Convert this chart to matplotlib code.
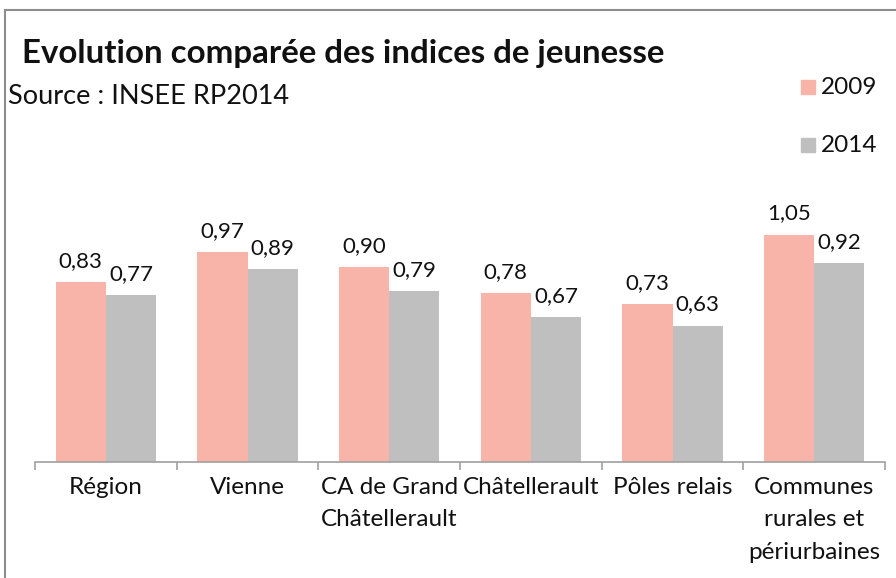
import matplotlib
matplotlib.use("Agg")
import matplotlib.pyplot as plt
from matplotlib.patches import Rectangle
import numpy as np

categories = ["Région", "Vienne", "CA de Grand\nChâtellerault", "Châtellerault",
              "Pôles relais", "Communes\nrurales et\npériurbaines"]
vals_2009 = [0.83, 0.97, 0.90, 0.78, 0.73, 1.05]
vals_2014 = [0.77, 0.89, 0.79, 0.67, 0.63, 0.92]
series = ["2009", "2014"]
colors = ["#F8B4A8", "#BFBFBF"]

plt.rcParams['font.family'] = ['Lato', 'DejaVu Sans']

W, H = 896, 578
fig = plt.figure(figsize=(W / 100, H / 100), dpi=100)

# axes placed in pixel terms
left, right, bottom, top = 35, 885, 462, 158
ax = fig.add_axes([left / W, 1 - bottom / H, (right - left) / W, (bottom - top) / H])

x = np.arange(len(categories))
bw = 0.355
b1 = ax.bar(x - bw / 2, vals_2009, bw, color=colors[0], label=series[0])
b2 = ax.bar(x + bw / 2, vals_2014, bw, color=colors[1], label=series[1])

for bars, vals in ((b1, vals_2009), (b2, vals_2014)):
    for rect, v in zip(bars, vals):
        ax.annotate(f"{v:.2f}".replace(".", ","),
                    (rect.get_x() + rect.get_width() / 2, v),
                    xytext=(0, 8), textcoords="offset points",
                    ha="center", va="bottom", fontsize=16, color="#111111")

ax.set_xlim(-0.5, len(categories) - 0.5)
ax.set_ylim(0, 1.404)
ax.set_yticks([])
for s in ("left", "right", "top"):
    ax.spines[s].set_visible(False)
ax.spines["bottom"].set_color("#A0A0A0")
ax.spines["bottom"].set_linewidth(1.2)

ax.set_xticks(x)
ax.set_xticklabels(categories, fontsize=17.5, linespacing=1.68, color="#111111")
ax.tick_params(axis="x", which="major", length=0, pad=10.5)
ax.set_xticks(np.arange(-0.5, len(categories), 1), minor=True)
ax.tick_params(axis="x", which="minor", length=6, width=1.2, color="#A0A0A0", direction="out")

fig.text(22 / W, 1 - 54 / H, "Evolution comparée des indices de jeunesse",
         fontsize=23.8, fontweight="bold", ha="left", va="center", color="#111111")
fig.text(8 / W, 1 - 96 / H, "Source : INSEE RP2014",
         fontsize=19.5, ha="left", va="center", color="#111111")

# legend drawn manually at top right
for i, (lab, c) in enumerate(zip(series, colors)):
    yc = 1 - (87 + 58 * i) / H
    fig.patches.append(Rectangle((801 / W, yc - 7 / H), 14 / W, 14 / H,
                                 transform=fig.transFigure, color=c))
    fig.text(821 / W, yc, lab, fontsize=17.5, ha="left", va="center", color="#111111")

# chart frame
fig.patches.append(Rectangle((5 / W, -0.1), 1.2, 1 - 10 / H + 0.1, transform=fig.transFigure,
                             fill=False, edgecolor="#8C8C8C", linewidth=1.5))

fig.savefig("out.png", dpi=100)
